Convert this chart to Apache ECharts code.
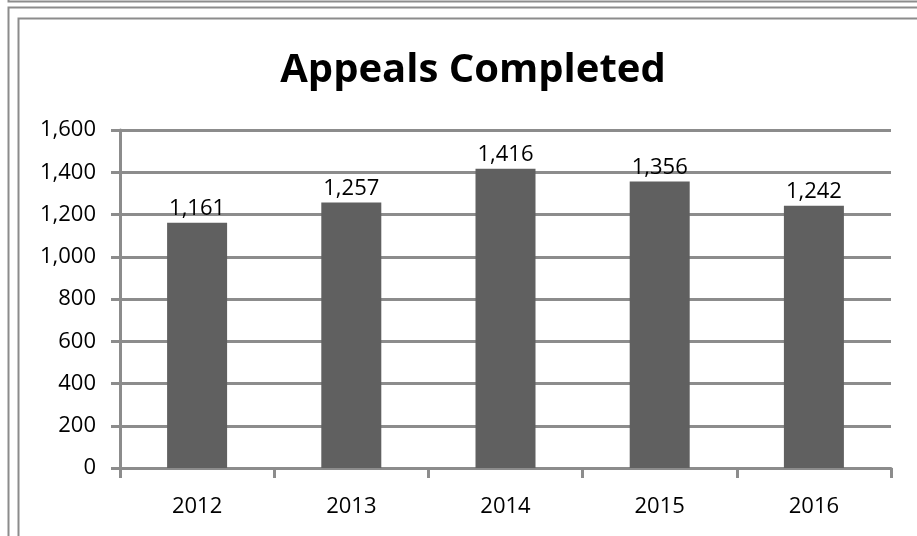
<!DOCTYPE html>
<html>
<head>
<meta charset="utf-8">
<script src="https://cdn.jsdelivr.net/npm/echarts@6/dist/echarts.min.js"></script>
<style>
  html, body { margin: 0; padding: 0; background: #fff; }
  #chart { width: 917px; height: 536px; }
</style>
</head>
<body>
<div id="chart"></div>
<script>
const years = ['2012', '2013', '2014', '2015', '2016']
const appeals = [1161, 1257, 1416, 1356, 1242]
const yMax = 1600
const yStep = 200

const gridColor = '#8c8c8c'
const font = '"Open Sans", "Liberation Sans", sans-serif'

const chart = echarts.init(document.getElementById('chart'))

chart.setOption({
  animation: false,
  title: {
    text: 'Appeals Completed',
    left: 468,
    top: 46,
    textAlign: 'center',
    textStyle: { fontFamily: font, fontSize: 40, fontWeight: 'bold', color: '#000' }
  },
  // frame boxes around the chart, running off the right and bottom edges
  graphic: [
    { type: 'rect', shape: { x: 8.5, y: -20, width: 1000, height: 21.5 }, style: { fill: 'none', stroke: gridColor, lineWidth: 2 } },
    { type: 'rect', shape: { x: 8.5, y: 7.5, width: 1000, height: 1000 }, style: { fill: 'none', stroke: gridColor, lineWidth: 2 } },
    { type: 'rect', shape: { x: 18.5, y: 18.5, width: 1000, height: 1000 }, style: { fill: 'none', stroke: gridColor, lineWidth: 2 } }
  ],
  grid: { left: 120, right: 26, top: 130, bottom: 68 },
  xAxis: {
    type: 'category',
    data: years,
    axisLine: { lineStyle: { color: gridColor, width: 3 } },
    axisTick: { show: true, length: 10, lineStyle: { color: gridColor, width: 3 } },
    axisLabel: { color: '#000', fontFamily: font, fontSize: 22, margin: 28 }
  },
  yAxis: {
    type: 'value',
    min: 0,
    max: yMax,
    interval: yStep,
    axisLine: { show: true, lineStyle: { color: gridColor, width: 3 } },
    axisTick: { show: true, length: 9, lineStyle: { color: gridColor, width: 3 } },
    axisLabel: {
      color: '#000',
      fontFamily: font,
      fontSize: 22,
      margin: 24,
      formatter: (v) => v.toLocaleString('en-US')
    },
    splitLine: { lineStyle: { color: gridColor, width: 3 } }
  },
  series: [{
    type: 'bar',
    data: appeals,
    barWidth: 60,
    itemStyle: { color: '#606060' },
    label: {
      show: true,
      position: 'top',
      distance: 3,
      color: '#000',
      fontFamily: font,
      fontSize: 22,
      formatter: (p) => p.value.toLocaleString('en-US')
    }
  }]
})
</script>
</body>
</html>
